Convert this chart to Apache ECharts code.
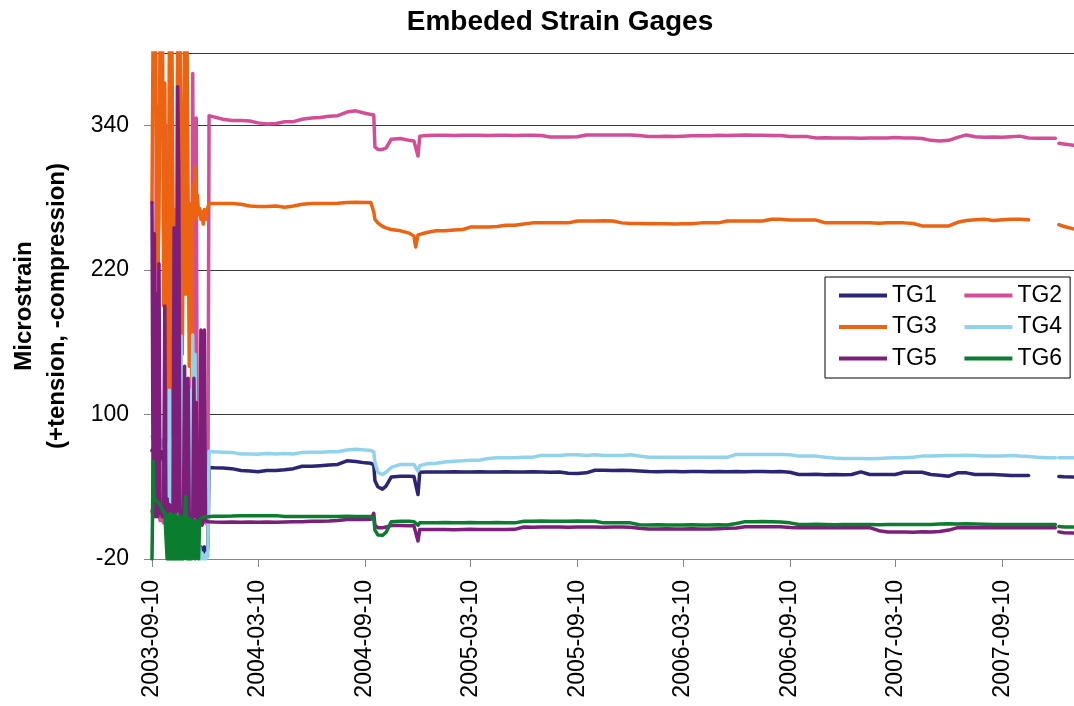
<!DOCTYPE html>
<html><head><meta charset="utf-8">
<script src="https://cdn.jsdelivr.net/npm/echarts@6/dist/echarts.min.js"></script>
<style>html,body{margin:0;padding:0;background:#fff}#c{width:1074px;height:706px}</style>
</head><body><div id="c"></div>
<script>
// ---------- data ----------
const dates = [
'2003-09-10','2003-09-12','2003-09-14','2003-09-16','2003-09-18','2003-09-20','2003-09-22','2003-09-24','2003-09-26','2003-09-28',
'2003-09-30','2003-10-02','2003-10-04','2003-10-06','2003-10-08','2003-10-10','2003-10-12','2003-10-14','2003-10-16','2003-10-18',
'2003-10-20','2003-10-22','2003-10-24','2003-10-26','2003-10-28','2003-10-30','2003-11-01','2003-11-03','2003-11-05','2003-11-07',
'2003-11-09','2003-11-11','2003-11-13','2003-11-15','2003-11-17','2003-11-19','2003-11-21','2003-11-23','2003-11-25','2003-11-27',
'2003-11-29','2003-12-01','2003-12-03','2003-12-05','2003-12-07','2003-12-09','2003-12-11','2003-12-13','2003-12-15','2003-12-17',
'2003-12-25','2004-01-10','2004-01-25','2004-02-10','2004-02-25','2004-03-10','2004-03-25','2004-04-10','2004-04-25','2004-05-10',
'2004-05-25','2004-06-10','2004-06-25','2004-07-10','2004-07-25','2004-08-10','2004-08-25','2004-09-10','2004-09-20','2004-09-25',
'2004-09-27','2004-10-02','2004-10-10','2004-10-16','2004-10-25','2004-11-10','2004-11-25','2004-12-03','2004-12-06','2004-12-10',
'2004-12-13','2004-12-25',
'2005-01-10','2005-01-25','2005-02-10','2005-02-25','2005-03-10','2005-03-25','2005-04-10','2005-04-25','2005-05-10','2005-05-25','2005-06-10','2005-06-25',
'2005-07-10','2005-07-25','2005-08-10','2005-08-25','2005-09-10','2005-09-25','2005-10-10','2005-10-25','2005-11-10','2005-11-25','2005-12-10','2005-12-25',
'2006-01-10','2006-01-25','2006-02-10','2006-02-25','2006-03-10','2006-03-25','2006-04-10','2006-04-25','2006-05-10','2006-05-25','2006-06-10','2006-06-25',
'2006-07-10','2006-07-25','2006-08-10','2006-08-25','2006-09-10','2006-09-25','2006-10-10','2006-10-25','2006-11-10','2006-11-25','2006-12-10','2006-12-25',
'2007-01-10','2007-01-25','2007-02-10','2007-02-25','2007-03-10','2007-03-25','2007-04-10','2007-04-25','2007-05-10','2007-05-25','2007-06-10','2007-06-25',
'2007-07-10','2007-07-25','2007-08-10','2007-08-25','2007-09-10','2007-09-25','2007-10-10','2007-10-25','2007-11-10','2007-11-25','2007-12-10','2007-12-13',
'2007-12-16','2007-12-25','2008-01-10'
];

const tg1 = [
70, 72, 68, 71, 69, 66, 68, 65, 69, 63,
66, 40, 10, -5, -10, 5, -12, 0, -15, 8,
-10, -5, -15, 10, -12, -5, -15, 5, -10, -15,
0, -10, -12, -5, -15, -10, -5, -12, -15, -10,
-12, -15, -10, -12, -15, -10, -12, -15, -10, 56,
55.7, 55.5, 55, 53.5, 53, 52.5, 53.5, 53.5, 54, 55,
57, 57, 57.5, 58, 58.5, 61.5, 61, 59.8, 59.5, 58,
45, 40, 38, 40.5, 48, 48.7, 48.7, 48.5, 42, 33.5,
52, 52.2,
52.3, 52.2, 52.5, 52.3, 52.2, 52.5, 52.3, 52.2, 52.4, 52.2, 52.3, 52.5,
52.2, 52, 52.3, 51.2, 51, 51.5, 53.7, 53.7, 53.5, 53.7, 53.5, 53,
52.6, 52.5, 52.7, 52.6, 52.5, 52.7, 52.6, 52.5, 52.6, 52.5, 52.6, 52.4,
52.6, 52.7, 52.5, 52.6, 52, 50.1, 50.1, 50.3, 50, 50.2, 49.9, 50.1,
52.3, 50.1, 50.1, 50.2, 50.1, 52, 52, 52, 50.1, 49.5, 48.7, 51.5,
51.5, 50.1, 50.1, 50.1, 49.8, 49.3, 49.3, 49.3, null, null, null, null,
48.5, 48.2, 48
];

const tg2 = [
20, 15, 25, 25, 350, 355, 20, 12, 14, 15,
10, 12, 340, 15, 12, 10, 12, 355, 14, 12,
10, 12, 14, 10, 12, 14, 12, 10, 12, 14,
10, 12, 10, 12, 100, 383, 120, 200, 346, 12,
10, 12, 11, 10, 12, 11, 10, 11, 11, 348,
347, 345, 344, 344, 343.5, 342, 341, 341.5, 343, 343,
345, 346, 346.5, 347.5, 348, 351, 352, 350, 349, 348.5,
322, 320, 320, 321, 328.5, 329, 327.5, 327, 326.5, 314.5,
331, 331.5,
331.7, 331.7, 331.5, 331.7, 331.8, 331.7, 331.5, 331.7, 331.7, 331.5, 331.7, 331.7,
331.6, 330.3, 330.3, 330.3, 330.5, 332, 332, 332, 332, 332, 332, 331.5,
330.6, 330.6, 330.8, 330.6, 331, 331.3, 331.3, 331.3, 331.8, 331.6, 331.8, 332,
331.8, 331.8, 331.6, 331.5, 330.6, 330.6, 330.6, 329.5, 329.6, 329.5, 329.4, 329.5,
329.3, 329.5, 329.5, 329.4, 329.8, 329.5, 329.5, 329, 327.5, 327, 327.5, 330,
332, 330.5, 330, 330.3, 330, 330.5, 331, 329.5, 329.3, 329.3, 329.3, null,
325, 324.5, 323.5
];

const tg3 = [
276, 430, 430, 430, 272, 222, 262, 430, 430, 430,
190, 375, 130, 85, 200, 430, 80, 430, 430, 120,
270, 140, 430, 250, 430, 430, 150, 270, 430, 200,
430, 430, 140, 275, 130, 290, 268, 305, 262, 282,
266, 271, 262, 268, 258, 270, 262, 266, 272, 275,
275, 275, 275, 274.5, 273, 272.5, 272.5, 273, 272, 273,
274.5, 275, 275, 275, 275.3, 276, 276.2, 276, 276, 268,
262, 259, 256, 254.8, 253.5, 252.4, 250.5, 248, 239, 249,
250, 251,
252.5, 252.5, 253, 253.5, 255.5, 255.5, 255.5, 256, 257, 257, 258, 259,
259, 259, 259.2, 259, 260.5, 260.5, 260.5, 260.7, 260.5, 259, 258.5, 258.5,
258.3, 258.3, 258.3, 258, 258.3, 258.3, 259, 259, 259, 260.5, 260.5, 260.5,
260.5, 260.5, 262, 262, 261.3, 261.3, 261.3, 261.3, 259, 259, 259, 259,
259, 259, 258.7, 259, 259, 259, 258.5, 256.5, 256.3, 256.3, 256.5, 259.5,
261, 261.5, 262, 261, 261.5, 262, 262, 261.5, null, null, null, null,
257.5, 256, 254
];

const tg4 = [
82, 78, 84, 80, 76, 82, 70, 79, 80, 74,
78, 82, 10, 75, 5, 120, 10, 80, 0, 15,
20, 10, 5, 12, 8, 165, 0, 10, 5, 12,
0, 8, 5, 120, -10, 166, 0, 150, -15, 2,
-18, -10, -20, -15, -20, -18, -20, -15, -18, 69.5,
69, 68.7, 68.5, 67.2, 67.2, 67, 67.5, 67.2, 67.5, 67.2,
68.5, 68.7, 68.7, 69, 69, 70.5, 71, 70.5, 70, 69,
60, 52, 50, 52, 56, 58.5, 58.5, 58.5, 56, 53,
57.5, 59,
59.5, 60.5, 61.2, 61.5, 62, 62, 63.5, 64, 64, 64, 64.5, 64.5,
66, 66, 66, 66.5, 66.5, 66, 66.5, 66, 66, 66, 66.5, 65.5,
64.5, 64.5, 64.5, 64.5, 64.5, 64.4, 64.4, 64.4, 64.4, 64.4, 66.8, 66.8,
66.8, 66.8, 66.8, 66.8, 66.5, 65.4, 65.4, 65.4, 64.4, 63.8, 63.5, 63.5,
63.5, 63.3, 63.5, 63.8, 64, 64, 64.4, 65.4, 65.5, 65.8, 66, 66,
66.2, 66, 65.4, 65.4, 65.4, 66, 65.4, 65, 64.4, 64, 64, null,
64, 64, 64
];

const tg5 = [
276, 20, 250, 15, 200, 15, 225, 18, 20, 15,
25, 190, 15, 30, 18, 25, 15, 20, 15, 255,
15, 20, 372, 300, 15, 20, 18, 15, 140, 12,
15, 130, 12, 15, 10, 15, 130, 15, 110, 10,
15, 12, 170, 8, 12, 170, 12, 11, 11, 11,
10.7, 10.5, 10.7, 10.5, 10.7, 10.5, 10.7, 10.5, 10.8, 11,
11, 11.3, 11.3, 11.5, 12, 12.8, 12.8, 12.8, 13, 18,
8, 6, 6, 6.5, 7.8, 7.8, 7.5, 7.5, 7, -5,
4.4, 4.4,
4.4, 4.5, 4.3, 4.4, 4.6, 4.4, 4.5, 4.4, 4.5, 4.6, 6.5, 6.4,
6.5, 6.6, 6.5, 6.4, 6.5, 6.5, 6.6, 6.4, 6.5, 6.5, 6.4, 5.5,
5, 5, 5.2, 5, 5, 5.2, 5, 5, 5.2, 5.5, 5.8, 6.7,
6.7, 6.8, 6.7, 6.7, 6.2, 6, 6, 6, 6, 6.2, 6, 6,
6, 6, 3.5, 2.5, 2.4, 2.5, 2.2, 2.6, 2.4, 2.8, 4, 6,
6.2, 6, 6, 6.2, 6, 6, 6.2, 6, 6, 6, 6, null,
2.5, 1.8, 1.5
];

const tg6 = [
-20, 61, 30, 29, 28, 27, 26, 25, 23, 21,
20, 18, 18, -20, 17, -20, 18, -20, 16, -20,
17, -20, 15, -20, 16, -20, 14, -20, 15, 32,
-20, 14, -20, 13, -20, 10, 12, -20, 12, 10,
-20, 12, 14, 13, 15, 14, 15, 15, 15, 15.5,
15.5, 15.5, 15.6, 16, 16, 16, 15.8, 16, 15.3, 15.2,
15.2, 15.2, 15.3, 15.2, 15.2, 15.4, 15.3, 15.3, 15.2, 14,
4, 0, -0.3, 2, 11, 11.3, 11.3, 11, 10, 8,
10, 10,
10, 10.2, 10, 10, 10.2, 10, 10, 10.2, 10, 10, 11.3, 11.3,
11.5, 11.3, 11.3, 11.3, 11.5, 11.3, 11.3, 10, 10, 10, 10, 8.5,
8.3, 8.5, 8.3, 8.2, 8.3, 8.5, 8.2, 8.3, 8.5, 8.3, 9.5, 11,
11, 11.2, 11, 10.8, 10, 8.7, 8.7, 8.8, 8.7, 8.5, 8.7, 8.7,
8.7, 8.7, 8.5, 8.7, 8.7, 8.7, 8.6, 8.7, 8.7, 9, 9.2, 9,
9.2, 9, 8.8, 8.7, 8.7, 8.7, 8.7, 8.7, 8.7, 8.7, 8.7, null,
7, 6.5, 6.5
];

const seriesNames = ['TG1', 'TG2', 'TG3', 'TG4', 'TG5', 'TG6'];
const seriesColors = ['#2A2575', '#D34E96', '#EC6311', '#92D3EC', '#7C1E7A', '#0A7D2E'];
const xTickLabels = ['2003-09-10','2004-03-10','2004-09-10','2005-03-10','2005-09-10','2006-03-10','2006-09-10','2007-03-10','2007-09-10'];
const xRange = ['2003-09-10', '2008-01-11'];
const yRange = [-20, 400];
const yStep = 120;
const titleText = 'Embeded Strain Gages';
const yTitle = 'Microstrain\n(+tension, -compression)';

// ---------- chart ----------
const FONT = '"Liberation Sans", Arial, Helvetica, sans-serif';
function P(s) { const a = s.split('-').map(Number); return Date.UTC(a[0], a[1] - 1, a[2]); }
const valueLists = [tg1, tg2, tg3, tg4, tg5, tg6];
valueLists.forEach((arr, k) => {
  if (arr.length !== dates.length) throw new Error(seriesNames[k] + ' length ' + arr.length + ' != ' + dates.length);
});
const ts = dates.map(P);
const tickVals = xTickLabels.map(P);
const labelMap = {};
xTickLabels.forEach((l, i) => { labelMap[tickVals[i]] = l; });

const chart = echarts.init(document.getElementById('c'), null, { renderer: 'canvas' });
chart.setOption({
  animation: false,
  backgroundColor: '#fff',
  title: {
    text: titleText, left: 560, top: 8, textAlign: 'center', padding: 0,
    textStyle: { fontSize: 28, fontWeight: 'bold', color: '#000', fontFamily: FONT }
  },
  grid: { left: 150, right: 0, top: 53, bottom: 147, containLabel: false },
  legend: {
    left: 825, top: 277, width: 262, orient: 'horizontal',
    padding: [7, 8, 8, 14], itemGap: 8.5, itemWidth: 48, itemHeight: 4,
    icon: 'rect', borderColor: '#000', borderWidth: 1, backgroundColor: '#fff',
    selectedMode: false, data: seriesNames,
    formatter: name => (seriesNames.indexOf(name) % 2 === 0 ? name + '   ' : name),
    textStyle: { fontSize: 23, color: '#000', fontFamily: FONT }
  },
  xAxis: {
    type: 'value', min: P(xRange[0]), max: P(xRange[1]),
    axisLine: { show: true, onZero: false, lineStyle: { color: '#868686', width: 1 } },
    axisTick: { show: true, length: 8, customValues: tickVals, lineStyle: { color: '#868686' } },
    axisLabel: {
      rotate: 90, fontSize: 23, color: '#000', margin: 21, fontFamily: FONT,
      customValues: tickVals, hideOverlap: false,
      formatter: v => labelMap[v] || ''
    },
    splitLine: { show: false }
  },
  yAxis: {
    type: 'value', min: yRange[0], max: yRange[1], interval: yStep,
    name: yTitle, nameLocation: 'middle', nameRotate: 90, nameGap: 111,
    nameTextStyle: { fontSize: 24, fontWeight: 'bold', color: '#000', fontFamily: FONT, lineHeight: 33, align: 'center', verticalAlign: 'middle' },
    axisLine: { show: true, lineStyle: { color: '#868686', width: 1 } },
    axisTick: { show: true, length: 8, lineStyle: { color: '#868686' } },
    axisLabel: { fontSize: 23, color: '#000', margin: 23, showMaxLabel: false, fontFamily: FONT },
    splitLine: { show: true, lineStyle: { color: '#3a3a3a', width: 1 } }
  },
  series: seriesNames.map((n, k) => ({
    name: n, type: 'line', showSymbol: false, symbol: 'none', connectNulls: false, clip: true,
    lineStyle: { color: seriesColors[k], width: 3.5, join: 'round', cap: 'round' },
    itemStyle: { color: seriesColors[k] },
    emphasis: { disabled: true },
    data: valueLists[k].map((v, i) => [ts[i], v == null ? '-' : v])
  }))
});
</script>
</body></html>
